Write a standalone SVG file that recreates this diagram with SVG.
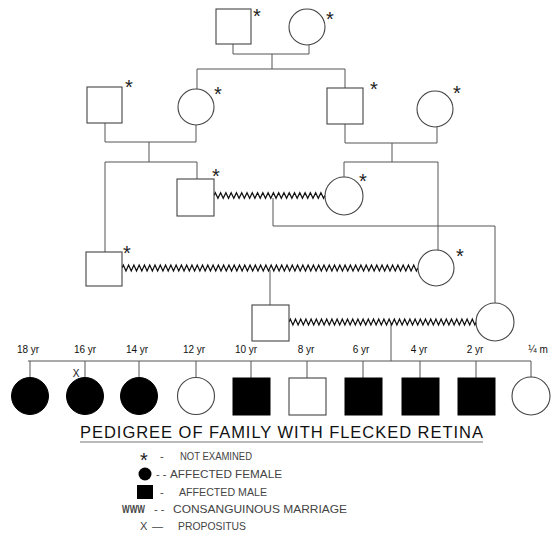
<svg xmlns="http://www.w3.org/2000/svg" width="553" height="541" viewBox="0 0 553 541">
<style>
.ln{stroke:#555;stroke-width:1;fill:none}
.sym{fill:#fff;stroke:#444;stroke-width:1.1}
.aff{fill:#000;stroke:#000;stroke-width:1}
.zz{stroke:#111;stroke-width:1.25;fill:none;stroke-linejoin:miter}
.ast{font-family:"Liberation Sans",Arial,sans-serif;font-size:20px;fill:#222;text-anchor:middle}
.age{font-family:"Liberation Sans",Arial,sans-serif;font-size:10px;fill:#111;text-anchor:middle}
.leg{font-family:"Liberation Sans",Arial,sans-serif;font-size:11px;fill:#444}
.title{font-family:"Liberation Sans",Arial,sans-serif;font-size:16.5px;fill:#111}
</style>
<rect width="553" height="541" fill="#fff"/>
<g id="connectors">
<path class="ln" d="M233,44V54H309V45M272,54V69M197,69H345M197,69V89M345,69V88"/>
<path class="ln" d="M105,123V142H196V125M149,142V162M105,162H197M105,162V252M197,162V179"/>
<path class="ln" d="M345,124V143H437V127M392,143V162M344,162H438M344,162V177M438,162V250"/>
<path class="ln" d="M273,198V226H495V303"/>
<path class="ln" d="M270,270V305"/>
<path class="ln" d="M391,324V361M28,361H531"/>
<path class="ln" d="M30,361V377M85,361V377M139,361V377M196,361V377M251,361V378M307,361V378M363,361V378M420,361V378M476,361V378M531,361V377"/>
<path class="zz" d="M214,195.5l1.32,-2.8 2.64,5.6 2.64,-5.6 2.64,5.6 2.64,-5.6 2.64,5.6 2.64,-5.6 2.64,5.6 2.64,-5.6 2.64,5.6 2.64,-5.6 2.64,5.6 2.64,-5.6 2.64,5.6 2.64,-5.6 2.64,5.6 2.64,-5.6 2.64,5.6 2.64,-5.6 2.64,5.6 2.64,-5.6 2.64,5.6 2.64,-5.6 2.64,5.6 2.64,-5.6 2.64,5.6 2.64,-5.6 2.64,5.6 2.64,-5.6 2.64,5.6 2.64,-5.6 2.64,5.6 2.64,-5.6 2.64,5.6 2.64,-5.6 2.64,5.6 2.64,-5.6 2.64,5.6 2.64,-5.6 2.64,5.6 2.64,-5.6 2.64,5.6 1.32,-2.8"/>
<path class="zz" d="M122,268l1.32,-3
2.64,6 2.64,-6 2.64,6 2.64,-6 2.64,6 2.64,-6 2.64,6 2.64,-6 2.64,6 2.64,-6
2.64,6 2.64,-6 2.64,6 2.64,-6 2.64,6 2.64,-6 2.64,6 2.64,-6 2.64,6 2.64,-6
2.64,6 2.64,-6 2.64,6 2.64,-6 2.64,6 2.64,-6 2.64,6 2.64,-6 2.64,6 2.64,-6
2.64,6 2.64,-6 2.64,6 2.64,-6 2.64,6 2.64,-6 2.64,6 2.64,-6 2.64,6 2.64,-6
2.64,6 2.64,-6 2.64,6 2.64,-6 2.64,6 2.64,-6 2.64,6 2.64,-6 2.64,6 2.64,-6
2.64,6 2.64,-6 2.64,6 2.64,-6 2.64,6 2.64,-6 2.64,6 2.64,-6 2.64,6 2.64,-6
2.64,6 2.64,-6 2.64,6 2.64,-6 2.64,6 2.64,-6 2.64,6 2.64,-6 2.64,6 2.64,-6
2.64,6 2.64,-6 2.64,6 2.64,-6 2.64,6 2.64,-6 2.64,6 2.64,-6 2.64,6 2.64,-6
2.64,6 2.64,-6 2.64,6 2.64,-6 2.64,6 2.64,-6 2.64,6 2.64,-6 2.64,6 2.64,-6
2.64,6 2.64,-6 2.64,6 2.64,-6 2.64,6 2.64,-6 2.64,6 2.64,-6 2.64,6 2.64,-6
2.64,6 2.64,-6 2.64,6 2.64,-6 2.64,6 2.64,-6 2.64,6 2.64,-6 2.64,6 2.64,-6
2.64,6 1.32,-3"/>
<path class="zz" d="M289,322l1.3,-3 2.6,6 2.6,-6 2.6,6 2.6,-6 2.6,6 2.6,-6 2.6,6 2.6,-6 2.6,6 2.6,-6 2.6,6 2.6,-6 2.6,6 2.6,-6 2.6,6 2.6,-6 2.6,6 2.6,-6 2.6,6 2.6,-6 2.6,6 2.6,-6 2.6,6 2.6,-6 2.6,6 2.6,-6 2.6,6 2.6,-6 2.6,6 2.6,-6 2.6,6 2.6,-6 2.6,6 2.6,-6 2.6,6 2.6,-6 2.6,6 2.6,-6 2.6,6 2.6,-6 2.6,6 2.6,-6 2.6,6 2.6,-6 2.6,6 2.6,-6 2.6,6 2.6,-6 2.6,6 2.6,-6 2.6,6 2.6,-6 2.6,6 2.6,-6 2.6,6 2.6,-6 2.6,6 2.6,-6 2.6,6 2.6,-6 2.6,6 2.6,-6 2.6,6 2.6,-6 2.6,6 2.6,-6 2.6,6 2.6,-6 2.6,6 2.6,-6 2.6,6 2.6,-6 2.6,6 1.3,-3"/>
</g>
<g id="gen1">
<g id="I1"><rect class="sym" x="216" y="9" width="35" height="35"/><text class="ast" x="257" y="23">*</text></g>
<g id="I2"><circle class="sym" cx="307" cy="27" r="18"/><text class="ast" x="330" y="26">*</text></g>
</g>
<g id="gen2">
<g id="II1"><rect class="sym" x="87" y="87" width="35" height="36"/><text class="ast" x="129" y="94">*</text></g>
<g id="II2"><circle class="sym" cx="196" cy="107" r="18"/><text class="ast" x="218" y="101">*</text></g>
<g id="II3"><rect class="sym" x="327" y="88" width="36" height="36"/><text class="ast" x="374" y="96">*</text></g>
<g id="II4"><circle class="sym" cx="435" cy="109" r="18"/><text class="ast" x="457" y="100">*</text></g>
</g>
<g id="gen3">
<g id="III1"><rect class="sym" x="177" y="179" width="37" height="37"/><text class="ast" x="216" y="183">*</text></g>
<g id="III2"><circle class="sym" cx="344" cy="196" r="19"/><text class="ast" x="363" y="188">*</text></g>
</g>
<g id="gen4">
<g id="IV1"><rect class="sym" x="86" y="252" width="36" height="34"/><text class="ast" x="127" y="260">*</text></g>
<g id="IV2"><circle class="sym" cx="436" cy="268" r="18"/><text class="ast" x="460" y="263">*</text></g>
</g>
<g id="gen5">
<g id="V1"><rect class="sym" x="252" y="305" width="37" height="36"/></g>
<g id="V2"><circle class="sym" cx="495" cy="322" r="19"/></g>
</g>
<g id="gen6">
<g id="VI1"><circle class="aff" cx="30" cy="396" r="18.5"/><text class="age" x="28" y="353">18 yr</text></g>
<g id="VI2"><circle class="aff" cx="85" cy="396" r="18.5"/><text class="age" x="85" y="353">16 yr</text><text class="age" x="76" y="377">X</text></g>
<g id="VI3"><circle class="aff" cx="139" cy="396" r="18.5"/><text class="age" x="137" y="353">14 yr</text></g>
<g id="VI4"><circle class="sym" cx="196" cy="396" r="18.5"/><text class="age" x="194" y="353">12 yr</text></g>
<g id="VI5"><rect class="aff" x="233" y="378" width="37" height="37"/><text class="age" x="246" y="353">10 yr</text></g>
<g id="VI6"><rect class="sym" x="289" y="378" width="37" height="37"/><text class="age" x="306" y="353">8 yr</text></g>
<g id="VI7"><rect class="aff" x="345" y="378" width="37" height="37"/><text class="age" x="361" y="353">6 yr</text></g>
<g id="VI8"><rect class="aff" x="402" y="378" width="37" height="37"/><text class="age" x="419" y="353">4 yr</text></g>
<g id="VI9"><rect class="aff" x="458" y="378" width="37" height="37"/><text class="age" x="475" y="353">2 yr</text></g>
<g id="VI10"><circle class="sym" cx="531" cy="396" r="19"/><text class="age" x="538" y="353" fill="#666">¼ m</text></g>
</g>
<g id="title">
<text class="title" x="80" y="438" textLength="403" lengthAdjust="spacing">PEDIGREE OF FAMILY WITH FLECKED RETINA</text>
<line x1="80" y1="442" x2="483" y2="442" stroke="#777" stroke-width="1.2"/>
</g>
<g id="legend">
<text class="ast" x="144" y="467">*</text>
<text class="leg" x="160" y="460">-</text>
<text class="leg" x="180" y="460" textLength="72" lengthAdjust="spacingAndGlyphs">NOT EXAMINED</text>
<circle cx="145" cy="474" r="6.5" fill="#000"/>
<text class="leg" x="156" y="478">- -</text>
<text class="leg" x="170" y="478" textLength="112" lengthAdjust="spacingAndGlyphs">AFFECTED FEMALE</text>
<rect x="137" y="485" width="16" height="14" fill="#000"/>
<text class="leg" x="160" y="496">-</text>
<text class="leg" x="179" y="496" textLength="88" lengthAdjust="spacingAndGlyphs">AFFECTED MALE</text>
<text class="leg" x="122" y="513" font-weight="bold" font-size="9" fill="#111" textLength="23" lengthAdjust="spacingAndGlyphs">WWW</text>
<text class="leg" x="154" y="513">- -</text>
<text class="leg" x="173" y="513" textLength="174" lengthAdjust="spacingAndGlyphs">CONSANGUINOUS  MARRIAGE</text>
<text class="leg" x="140" y="530" fill="#111">X</text>
<text class="leg" x="152" y="530">—</text>
<text class="leg" x="178" y="530" textLength="68" lengthAdjust="spacingAndGlyphs">PROPOSITUS</text>
</g>
</svg>
